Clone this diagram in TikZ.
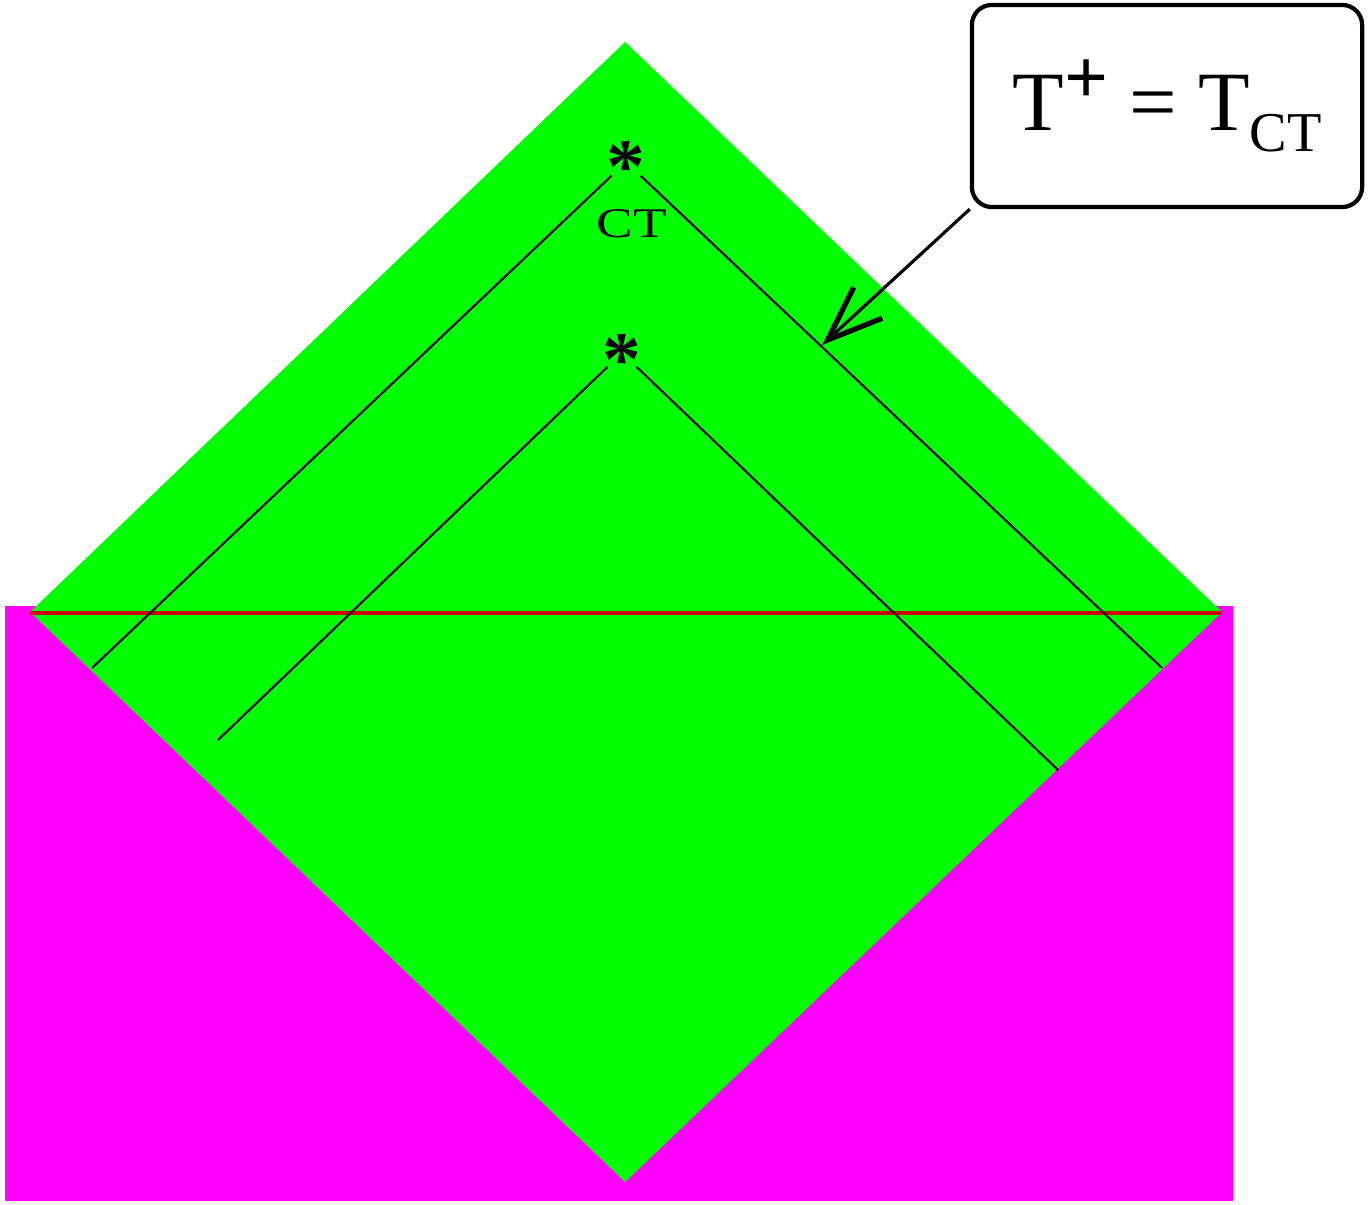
\documentclass[tikz,border=0pt]{standalone}
\usepackage{fontspec}
\setmainfont{Liberation Serif}
\usetikzlibrary{arrows.meta}
\definecolor{pinkfill}{RGB}{255,0,255}
\definecolor{greenfill}{RGB}{0,255,0}

\begin{document}
\begin{tikzpicture}[x=0.01cm,y=-0.01cm,
  cone/.style={line width=0.6pt, shorten <=0.2cm},
  starmark/.style={inner sep=0pt, anchor=base, font=\fontsize{22}{22}\selectfont\bfseries}]
\useasboundingbox (0,0) rectangle (1368,1204);
\fill[pinkfill] (5,606) rectangle (1233,1201);
\coordinate (top) at (625,42);
\coordinate (left) at (30,612);
\coordinate (bottom) at (625,1182);
\coordinate (right) at (1222,612);
\fill[greenfill] (top) -- (left) -- (bottom) -- (right) -- cycle;
\draw[red!80!black, line width=0.9pt] (30,613) coordinate (redL) -- (1222,613) coordinate (redR);
% outer cone
\coordinate (ct) at (626,162);
\node[starmark] (ctstar) at (626,193) {*};
\node[inner sep=0pt] (ctlabel) at (632,224) {\scalebox{1.3}[1]{\fontsize{12}{12}\selectfont CT}};
\coordinate (ctL) at (92,668);
\coordinate (ctR) at (1162,668);
\draw[cone] (ct) -- (ctL);
\draw[cone] (ct) -- (ctR);
% inner cone
\coordinate (ev) at (622,353);
\node[starmark] (evstar) at (622,386) {*};
\coordinate (evL) at (218,740);
\coordinate (evR) at (1058,770);
\draw[cone] (ev) -- (evL);
\draw[cone] (ev) -- (evR);
% callout
\node[draw, line width=1.2pt, rounded corners=0.2cm, minimum width=3.9cm, minimum height=2.02cm, inner sep=0pt] (box) at (1167,106)
  {\fontsize{24}{24}\selectfont T\raisebox{0.7ex}{\fontsize{22}{22}\selectfont\bfseries +} = T\raisebox{-0.55ex}{\fontsize{16}{16}\selectfont CT}};
\coordinate (tip) at (822,345);
\draw[line width=0.9pt, -{Straight Barb[length=0.55cm, width=0.42cm, line width=1.5pt]}] (box.south west) -- (tip);
\end{tikzpicture}
\end{document}
